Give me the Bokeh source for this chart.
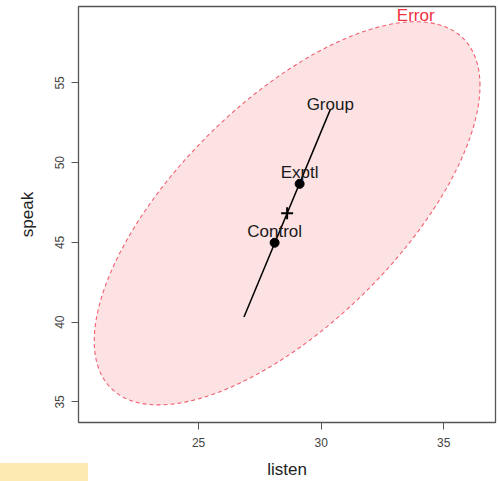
import numpy as np
from bokeh.plotting import figure
from bokeh.layouts import column
from bokeh.models import ColumnDataSource, FixedTicker, Div
from bokeh.core.properties import value
from bokeh.embed import file_html
from bokeh.resources import INLINE

# Group means (listen, speak)
groups = ["Control", "Exptl"]
listen_means = [28.10, 29.12]
speak_means = [44.98, 48.67]

# Error (E) covariance, scaled for the HE plot
err_var_listen = 61.9
err_var_speak = 144.3
err_cov = 63.0

# Hypothesis (Group) effect: rank-1, half-length vector
group_h = [1.76, 6.50]

x_ticks = [25, 30, 35]
y_ticks = [35, 40, 45, 50, 55]

FONT = "Liberation Sans"

grand = (np.mean(listen_means), np.mean(speak_means))

# Error ellipse outline from the covariance matrix
S = np.array([[err_var_listen, err_cov], [err_cov, err_var_speak]])
L = np.linalg.cholesky(S)
t = np.linspace(0, 2 * np.pi, 240)
pts = L @ np.vstack([np.cos(t), np.sin(t)])
ex = grand[0] + pts[0]
ey = grand[1] + pts[1]

p = figure(width=498, height=481, output_backend="svg", toolbar_location=None,
           x_range=(20.10, 37.11), y_range=(33.71, 59.79),
           min_border_left=78, min_border_right=3, min_border_top=6,
           min_border_bottom=58)
p.grid.visible = False
p.outline_line_color = "#555555"
p.outline_line_width = 1.3
p.background_fill_color = "white"
p.border_fill_color = "white"

for ax in (p.xaxis[0], p.yaxis[0]):
    ax.axis_line_color = None
    ax.major_tick_line_color = "#555555"
    ax.major_tick_out = 7
    ax.major_tick_in = 0
    ax.minor_tick_line_color = None
    ax.major_label_text_font = FONT
    ax.major_label_text_font_size = "12px"
    ax.major_label_text_color = "#444444"
    ax.axis_label_text_font = FONT
    ax.axis_label_text_font_size = "17px"
    ax.axis_label_text_font_style = "normal"
    ax.axis_label_text_color = "#222222"

p.xaxis.ticker = FixedTicker(ticks=x_ticks)
p.yaxis.ticker = FixedTicker(ticks=y_ticks)
p.xaxis.axis_label = "listen"
p.yaxis.axis_label = "speak"
p.xaxis.major_label_standoff = 8
p.xaxis.axis_label_standoff = 10
p.yaxis.major_label_orientation = "vertical"
p.yaxis.major_label_standoff = 7
p.yaxis.axis_label_standoff = 16

# Error ellipse
p.patch(ex, ey, fill_color="#FDE2E3", fill_alpha=1.0, line_color="#F06070",
        line_width=1.1, line_dash="4 3")

# Group hypothesis (degenerate ellipse: a line)
hx = [grand[0] - group_h[0], grand[0] + group_h[0]]
hy = [grand[1] - group_h[1], grand[1] + group_h[1]]
p.line(hx, hy, line_color="black", line_width=1.5)

# Group means and grand mean
src = ColumnDataSource(dict(x=listen_means, y=speak_means, g=groups))
p.scatter("x", "y", source=src, size=9, marker="circle", fill_color="black",
          line_color="black")
p.scatter([grand[0]], [grand[1]], marker="cross", size=12, line_color="black",
          line_width=2)

p.text("x", "y", text="g", source=src, text_align="center",
       text_baseline="alphabetic", y_offset=-11.5, text_font=value(FONT),
       text_font_size="17px", text_color="#1a1a1a")
p.text([hx[1]], [hy[1]], text=["Group"], text_align="center",
       text_baseline="alphabetic", y_offset=-5, text_font=value(FONT),
       text_font_size="17px", text_color="#1a1a1a")

# Error label at the top of the ellipse
top = np.argmax(ey)
p.text([ex[top]], [ey[top]], text=["Error"], text_align="center",
       text_baseline="alphabetic", y_offset=-6, text_font=value(FONT),
       text_font_size="17px", text_color="#F03040")

# Highlight strip overlapping the lower-left corner of the page
strip = Div(text="", width=88, height=18, margin=(-18, 0, 0, 0),
            styles={"background-color": "#FDE9B2"})

layout = column(p, strip, spacing=0)

open("out.html", "w").write(file_html(layout, INLINE))
